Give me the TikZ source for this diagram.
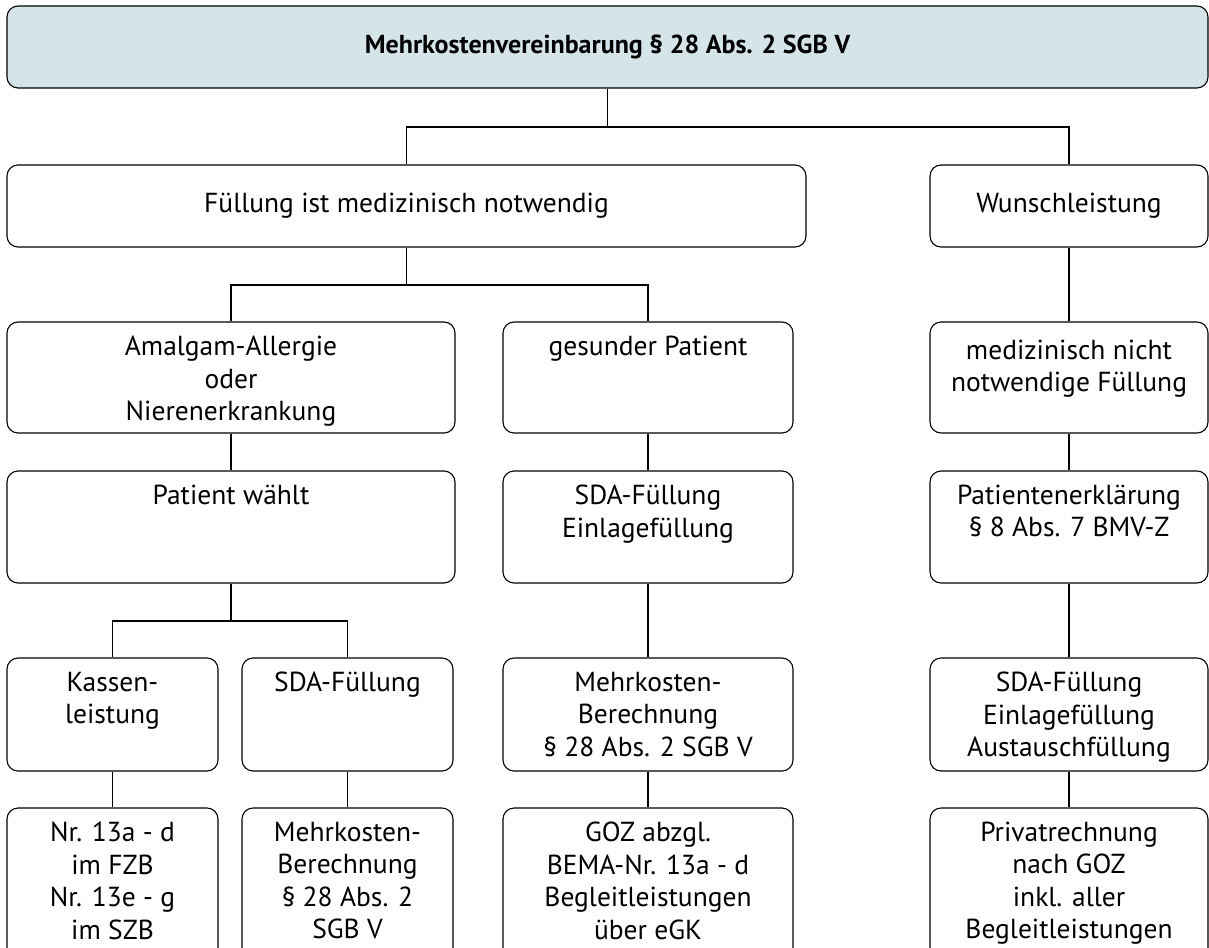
\documentclass[tikz,border=0pt]{standalone}
\usepackage{fontspec}
\setmainfont{PT Sans}
\usetikzlibrary{positioning}
\definecolor{headblue}{HTML}{D5E4E8}

\begin{document}
\begin{tikzpicture}%
	[x=1pt, y=-1pt,
	line width=1.1pt,
	box/.style={draw, rounded corners=11pt, inner sep=0pt},
	head/.style={box, fill=headblue},
	txt/.style={align=center, inner sep=0pt, font=\fontsize{27.5}{32.5}\selectfont}]
%
\clip (0,0) rectangle (1209,947);
%%
%% Boxes
%%
\node[head, minimum width=1201pt, minimum height=82pt] (top) at (607.5,47) {};
\node[box, minimum width=799pt, minimum height=82pt] (fuell) at (406.5,206) {};
\node[box, minimum width=278pt, minimum height=82pt] (wunsch) at (1069,206) {};
%
\node[box, minimum width=448pt, minimum height=111pt] (amalgam) at (231,377.5) {};
\node[box, minimum width=290pt, minimum height=111pt] (gesund) at (648,377.5) {};
\node[box, minimum width=278pt, minimum height=111pt] (nicht) at (1069,377.5) {};
%
\node[box, minimum width=448pt, minimum height=112pt] (waehlt) at (231,527) {};
\node[box, minimum width=290pt, minimum height=112pt] (sdaein) at (648,527) {};
\node[box, minimum width=278pt, minimum height=112pt] (erkl) at (1069,527) {};
%
\node[box, minimum width=211pt, minimum height=113pt] (kasse) at (112.5,714.5) {};
\node[box, minimum width=211pt, minimum height=113pt] (sdawahl) at (347.5,714.5) {};
\node[box, minimum width=290pt, minimum height=113pt] (mehr) at (648,714.5) {};
\node[box, minimum width=278pt, minimum height=113pt] (sdaaus) at (1069,714.5) {};
%
\node[box, minimum width=211pt, minimum height=160pt] (nrfzb) at (112.5,888) {};
\node[box, minimum width=211pt, minimum height=160pt] (mehrsgb) at (347.5,888) {};
\node[box, minimum width=290pt, minimum height=160pt] (goz) at (648,888) {};
\node[box, minimum width=278pt, minimum height=160pt] (priv) at (1069,888) {};
%%
%% Texts
%%
\node[txt, font=\fontsize{26}{32}\selectfont\bfseries] (top-t) at (top) {Mehrkostenvereinbarung § 28 Abs. 2 SGB V};
\node[txt] (fuell-t) at (fuell) {Füllung ist medizinisch notwendig};
\node[txt] (wunsch-t) at (wunsch) {Wunschleistung};
%
\node[txt, below=14pt of amalgam.north] (amalgam-t) {Amalgam-Allergie\\oder\\Nierenerkrankung};
\node[txt, below=14pt of gesund.north] (gesund-t) {gesunder Patient};
\node[txt, below=18pt of nicht.north] (nicht-t) {medizinisch nicht\\notwendige Füllung};
%
\node[txt, below=14pt of waehlt.north] (waehlt-t) {Patient wählt};
\node[txt, below=14pt of sdaein.north] (sdaein-t) {SDA-Füllung\\Einlagefüllung};
\node[txt, below=14pt of erkl.north] (erkl-t) {Patientenerklärung\\§ 8 Abs. 7 BMV-Z};
%
\node[txt, below=14pt of kasse.north] (kasse-t) {Kassen-\\leistung};
\node[txt, below=14pt of sdawahl.north] (sdawahl-t) {SDA-Füllung};
\node[txt, below=14pt of mehr.north] (mehr-t) {Mehrkosten-\\Berechnung\\§ 28 Abs. 2 SGB V};
\node[txt, below=14pt of sdaaus.north] (sdaaus-t) {SDA-Füllung\\Einlagefüllung\\Austauschfüllung};
%
\node[txt, below=14pt of nrfzb.north] (nrfzb-t) {Nr. 13a - d\\im FZB\\Nr. 13e - g\\im SZB};
\node[txt, below=14pt of mehrsgb.north] (mehrsgb-t) {Mehrkosten-\\Berechnung\\§ 28 Abs. 2\\SGB V};
\node[txt, below=14pt of goz.north] (goz-t) {GOZ abzgl.\\BEMA-Nr. 13a - d\\Begleitleistungen\\über eGK};
\node[txt, below=14pt of priv.north] (priv-t) {Privatrechnung\\nach GOZ\\inkl. aller\\Begleitleistungen};
%%
%% Connectors
%%
\coordinate (split0) at (607.5,127);
\coordinate (split1) at (406.5,285);
\coordinate (split2) at (231,621);
\draw (top) -- (split0);
\draw (fuell) |- (split0) -| (wunsch);
\draw (fuell) -- (split1);
\draw (amalgam) |- (split1) -| (gesund);
\draw (wunsch) -- (nicht);
\draw (amalgam) -- (waehlt);
\draw (gesund) -- (sdaein);
\draw (nicht) -- (erkl);
\draw (waehlt) -- (split2);
\draw (kasse) |- (split2) -| (sdawahl);
\draw (sdaein) -- (mehr);
\draw (erkl) -- (sdaaus);
\draw (kasse) -- (nrfzb);
\draw (sdawahl) -- (mehrsgb);
\draw (mehr) -- (goz);
\draw (sdaaus) -- (priv);
%%
\end{tikzpicture}
\end{document}
